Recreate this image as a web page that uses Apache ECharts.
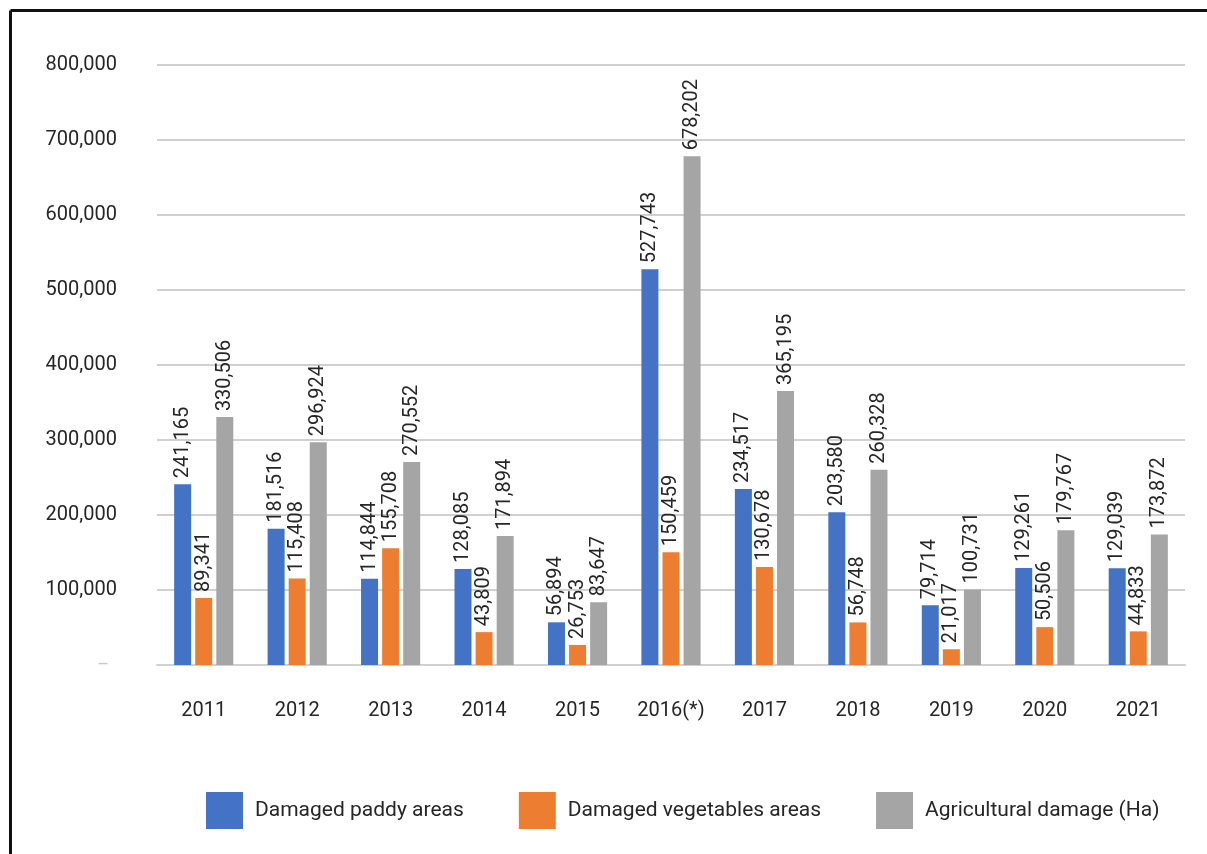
<!DOCTYPE html>
<html>
<head>
<meta charset="utf-8">
<script src="https://cdn.jsdelivr.net/npm/echarts@6/dist/echarts.min.js"></script>
<style>
html,body{margin:0;padding:0;background:#fff;overflow:hidden;}
#chart{width:1207px;height:854px;}
</style>
</head>
<body>
<div id="chart"></div>
<script>
const categories = ['2011','2012','2013','2014','2015','2016(*)','2017','2018','2019','2020','2021'];
const paddy = [241165,181516,114844,128085,56894,527743,234517,203580,79714,129261,129039];
const vegetables = [89341,115408,155708,43809,26753,150459,130678,56748,21017,50506,44833];
const agricultural = [330506,296924,270552,171894,83647,678202,365195,260328,100731,179767,173872];
const seriesNames = ['Damaged paddy areas','Damaged vegetables areas','Agricultural damage (Ha)'];
const colors = ['#4472C4','#ED7D31','#A5A5A5'];

const FONT = 'Roboto';
const TXT = '#262626';
const fmt = v => v.toLocaleString('en-US');

const chart = echarts.init(document.getElementById('chart'));
function mkSeries(name, data, color){
  return {
    name, type:'bar', data,
    barWidth:17,
    barGap:'24%',
    barCategoryGap:'37%',
    itemStyle:{color},
    label:{
      show:true, position:'top', rotate:90, align:'left', verticalAlign:'middle',
      distance:6, color:TXT, fontFamily:FONT, fontSize:20,
      formatter: p => fmt(p.value)
    }
  };
}
chart.setOption({
  animation:false,
  backgroundColor:'#fff',
  graphic:[
    {type:'line', silent:true, shape:{x1:10.5,y1:10.5,x2:1207,y2:10.5}, style:{stroke:'#111', lineWidth:3}},
    {type:'line', silent:true, shape:{x1:10.5,y1:10.5,x2:10.5,y2:854}, style:{stroke:'#111', lineWidth:3}}
  ],
  grid:{left:157,right:22,top:65,bottom:189,containLabel:false},
  legend:{
    left:206, top:792, padding:0,
    itemWidth:37, itemHeight:37, itemGap:55,
    icon:'rect',
    textStyle:{color:TXT, fontFamily:FONT, fontSize:21, padding:[0,0,0,7]},
    data:seriesNames
  },
  xAxis:{
    type:'category', data:categories,
    axisLine:{show:true, lineStyle:{color:'#d0d0d0', width:2}},
    axisTick:{show:false},
    axisLabel:{color:TXT, fontFamily:FONT, fontSize:20, margin:36}
  },
  yAxis:{
    type:'value', min:0, max:800000, interval:100000,
    axisLine:{show:false}, axisTick:{show:false},
    splitLine:{lineStyle:{color:'#d0d0d0', width:2}},
    axisLabel:{
      margin:40, fontFamily:FONT, fontSize:20, color:TXT,
      formatter: v => v === 0 ? '{z|–}' : fmt(v),
      rich:{z:{color:'#c8c8c8', fontFamily:FONT, fontSize:18, padding:[0,8,0,0]}}
    }
  },
  series:[
    mkSeries(seriesNames[0], paddy, colors[0]),
    mkSeries(seriesNames[1], vegetables, colors[1]),
    mkSeries(seriesNames[2], agricultural, colors[2])
  ]
});
</script>
</body>
</html>
